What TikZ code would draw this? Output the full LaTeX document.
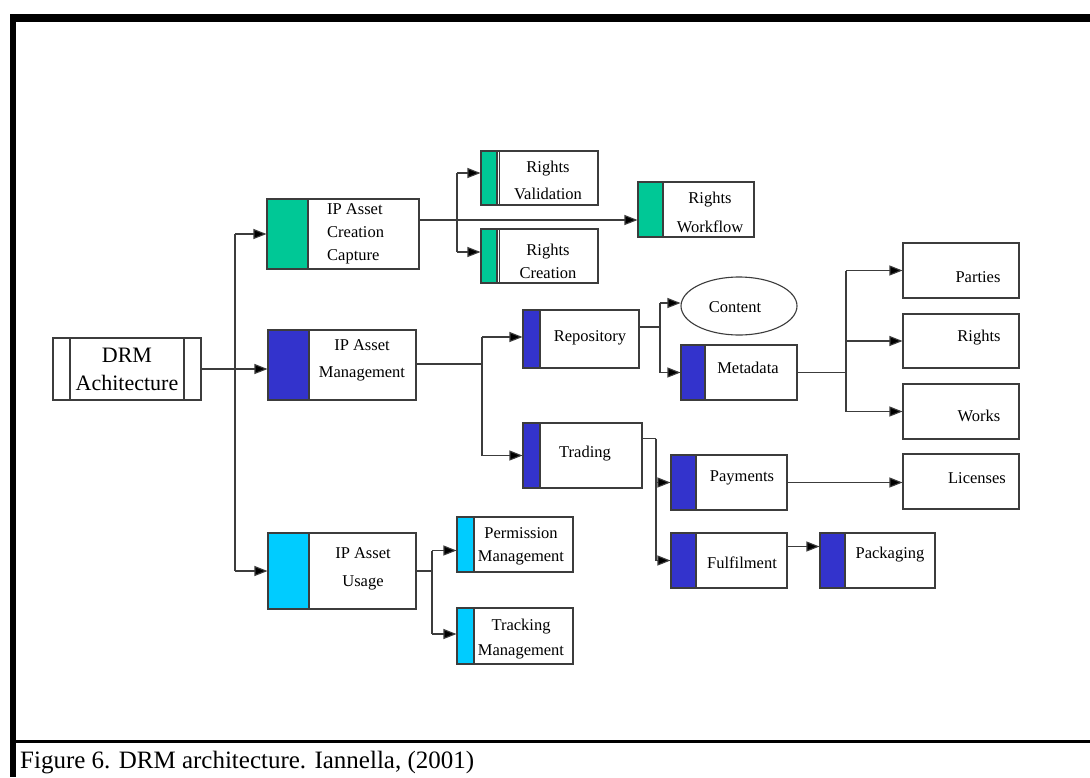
\documentclass[tikz,border=0pt]{standalone}
\usepackage{fontspec}
\setmainfont{Liberation Serif}
\usetikzlibrary{arrows.meta,shapes.geometric}
\definecolor{cgreen}{RGB}{0,200,150}
\definecolor{cblue}{RGB}{51,51,204}
\definecolor{ccyan}{RGB}{0,204,255}
\definecolor{edge}{RGB}{60,60,60}
\begin{document}
\begin{tikzpicture}[x=1pt,y=-1pt,
  box/.style={draw=edge, line width=1.1pt, rectangle, inner sep=0pt},
  colbar/.style 2 args={path picture={
      \fill[#1] (path picture bounding box.north west) rectangle ([xshift=#2]path picture bounding box.south west);
      \draw[edge, line width=1.1pt] ([xshift=#2]path picture bounding box.north west) -- ([xshift=#2]path picture bounding box.south west);}},
  lab/.style={font=\fontsize{16.5}{23}\selectfont, align=center, inner sep=0pt},
  conn/.style={draw=edge, line width=1.1pt},
  arr/.style={conn, -{Triangle[length=13pt,width=10pt,fill=black]}},
]
\useasboundingbox (0,0) rectangle (1090,777);
\fill[white] (0,0) rectangle (1090,777);

% page frame
\fill[black] (10,14) rectangle (1090,22);
\fill[black] (10,14) rectangle (16,777);
\fill[black] (16,740) rectangle (1090,743);
\node[anchor=base west, inner sep=0pt, font=\fontsize{25}{30}\selectfont] (cap) at (20,768) {Figure 6. DRM architecture. Iannella, (2001)};

% root
\node[box, minimum width=148, minimum height=62, path picture={
   \draw[edge, line width=1.1pt] ([xshift=17pt]path picture bounding box.north west) -- ([xshift=17pt]path picture bounding box.south west);
   \draw[edge, line width=1.1pt] ([xshift=-17pt]path picture bounding box.north east) -- ([xshift=-17pt]path picture bounding box.south east);}]
   (drm) at (127,369) {};
\node[lab, font=\fontsize{22}{28}\selectfont] (drmt) at (127,369) {DRM\\Achitecture};

% first level
\node[box, colbar={cgreen}{41pt}, minimum width=152, minimum height=70] (ipc) at (343,234) {};
\node[box, colbar={cblue}{41pt}, minimum width=148, minimum height=70] (ipm) at (342,365) {};
\node[box, colbar={ccyan}{41pt}, minimum width=148, minimum height=76] (ipu) at (342,571) {};
\node[lab, anchor=west, align=left] (ipct) at (327,234) {IP Asset\\Creation\\Capture};
\node[lab, font=\fontsize{16.5}{27}\selectfont] (ipmt) at (362,360) {IP Asset\\Management};
\node[lab, font=\fontsize{16.5}{28}\selectfont] (iput) at (363,569) {IP Asset\\Usage};

% creation branch
\node[box, colbar={cgreen}{16pt}, minimum width=117, minimum height=54] (rv) at (539.5,178) {};
\node[box, colbar={cgreen}{16pt}, minimum width=117, minimum height=54] (rc) at (539.5,256) {};
\node[box, colbar={cgreen}{25pt}, minimum width=116, minimum height=55] (rw) at (696,209.5) {};
\draw[edge, line width=0.9pt] ([xshift=18.5pt]rv.north west) -- ([xshift=18.5pt]rv.south west);
\draw[edge, line width=0.9pt] ([xshift=18.5pt]rc.north west) -- ([xshift=18.5pt]rc.south west);
\node[lab, font=\fontsize{16.5}{27}\selectfont] (rvt) at (548,180) {Rights\\Validation};
\node[lab] (rct) at (548,261) {Rights\\Creation};
\node[lab, font=\fontsize{16.5}{29}\selectfont] (rwt) at (710,212) {Rights\\Workflow};

% management branch
\node[box, colbar={cblue}{17pt}, minimum width=116, minimum height=58] (rep) at (581,339) {};
\node[box, colbar={cblue}{17pt}, minimum width=119, minimum height=65] (trd) at (582.5,455.5) {};
\node[lab] (rept) at (590,338) {Repository};
\node[lab] (trdt) at (585,454) {Trading};
\node[draw=edge, line width=1.1pt, ellipse, minimum width=116, minimum height=58, inner sep=0pt] (cont) at (739,306) {};
\node[lab] (contt) at (735,307) {Content};
\node[box, colbar={cblue}{24pt}, minimum width=116, minimum height=55] (meta) at (739,372.5) {};
\node[lab] (metat) at (748,368) {Metadata};
\node[box, minimum width=116, minimum height=55] (par) at (961,270.5) {};
\node[box, minimum width=116, minimum height=54] (rig) at (961,341) {};
\node[box, minimum width=116, minimum height=55] (wor) at (961,411.5) {};
\node[box, minimum width=116, minimum height=55] (lic) at (961,481.5) {};
\node[lab] (part) at (978,277) {Parties};
\node[lab] (rigt) at (979,338) {Rights};
\node[lab] (wort) at (979,416) {Works};
\node[lab] (lict) at (977,478) {Licenses};
\node[box, colbar={cblue}{25pt}, minimum width=116, minimum height=55] (pay) at (729,482.5) {};
\node[box, colbar={cblue}{25pt}, minimum width=116, minimum height=55] (ful) at (729,560.5) {};
\node[box, colbar={cblue}{25pt}, minimum width=115, minimum height=55] (pkg) at (877.5,560.5) {};
\node[lab] (payt) at (742,478) {Payments};
\node[lab] (fult) at (742,563) {Fulfilment};
\node[lab] (pkgt) at (890,555) {Packaging};

% usage branch
\node[box, colbar={ccyan}{17pt}, minimum width=116, minimum height=55] (perm) at (515,544.5) {};
\node[box, colbar={ccyan}{17pt}, minimum width=116, minimum height=56] (trk) at (515,636) {};
\node[lab] (permt) at (521,546) {Permission\\Management};
\node[lab, font=\fontsize{16.5}{25}\selectfont] (trkt) at (521,639) {Tracking\\Management};

% bus positions
\coordinate (b1) at (235,0);
\coordinate (b2) at (457,0);
\coordinate (b3) at (482,0);
\coordinate (b4) at (660,0);
\coordinate (b5) at (846,0);
\coordinate (b6) at (656,0);
\coordinate (b7) at (432,0);

% root to first level
\draw[conn] (b1 |- ipc.west) -- (b1 |- ipu.west);
\draw[arr] (drm.east) -- (drm.east -| ipm.west);
\draw[arr] (b1 |- ipc.west) -- (ipc.west);
\draw[arr] (b1 |- ipu.west) -- (ipu.west);

% creation connectors
\draw[arr] ([yshift=14pt]ipc.east) coordinate (c1) -- (c1 -| rw.west);
\draw[conn] ([yshift=5pt]b2 |- rv.west) -- ([yshift=4pt]b2 |- rc.west);
\draw[arr] ([yshift=5pt]b2 |- rv.west) -- ([yshift=5pt]rv.west);
\draw[arr] ([yshift=4pt]b2 |- rc.west) -- ([yshift=4pt]rc.west);

% management connectors
\draw[conn] ([yshift=1pt]ipm.east) -- ([yshift=1pt]b3 |- ipm.east);
\draw[conn] ([yshift=2pt]b3 |- rep.west) -- (b3 |- trd.west);
\draw[arr] ([yshift=2pt]b3 |- rep.west) -- ([yshift=2pt]rep.west);
\draw[arr] (b3 |- trd.west) -- (trd.west);
\draw[conn] ([yshift=12pt]rep.east) -- ([yshift=12pt]b4 |- rep.east);
\draw[conn] ([yshift=3pt]b4 |- cont.west) -- (b4 |- meta.west);
\draw[arr] ([yshift=3pt]b4 |- cont.west) -- ([yshift=3pt]cont.west);
\draw[arr] (b4 |- meta.west) -- (meta.west);
\draw[conn] (meta.east) -- (b5 |- meta.east);
\draw[conn] (b5 |- par.west) -- (b5 |- wor.west);
\draw[arr] (b5 |- par.west) -- (par.west);
\draw[arr] (b5 |- rig.west) -- (rig.west);
\draw[arr] (b5 |- wor.west) -- (wor.west);
\draw[conn] ([yshift=17pt]trd.east) -- ([yshift=17pt]b6 |- trd.east);
\draw[conn] ([yshift=17pt]b6 |- trd.east) -- (b6 |- ful.west);
\draw[arr] (b6 |- pay.west) -- (pay.west);
\draw[arr] (b6 |- ful.west) -- (ful.west);
\draw[arr] (pay.east) -- (pay.east -| lic.west);
\draw[arr] ([yshift=14pt]ful.east) coordinate (c2) -- (c2 -| pkg.west);

% usage connectors
\draw[conn] (ipu.east) -- (b7 |- ipu.east);
\draw[conn] ([yshift=-6pt]b7 |- perm.west) -- ([yshift=2pt]b7 |- trk.west);
\draw[arr] ([yshift=-6pt]b7 |- perm.west) -- ([yshift=-6pt]perm.west);
\draw[arr] ([yshift=2pt]b7 |- trk.west) -- ([yshift=2pt]trk.west);
\end{tikzpicture}
\end{document}
